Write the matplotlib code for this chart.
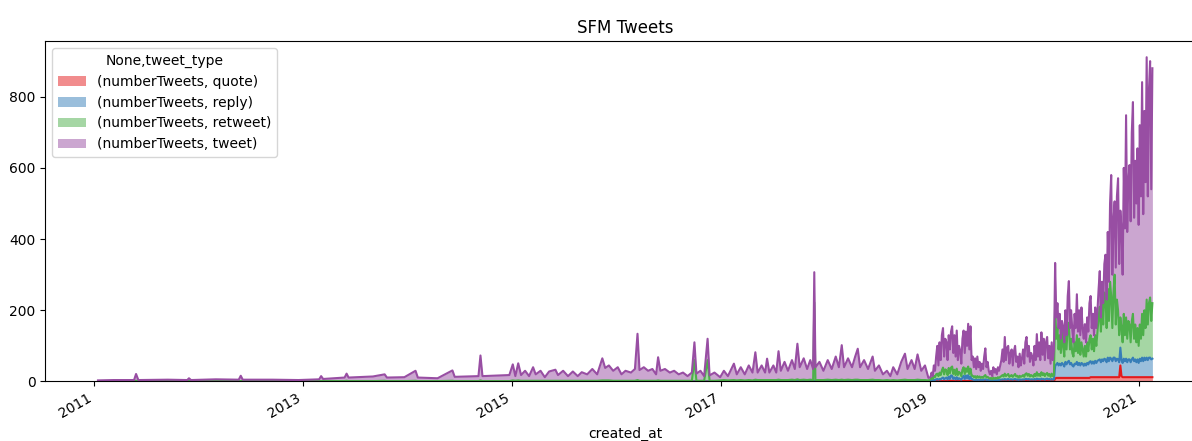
import datetime as dt

import matplotlib
matplotlib.use("Agg")
import matplotlib.dates as mdates
import matplotlib.patches as mpatches
import matplotlib.pyplot as plt
import pandas as pd

# --- 2011-2018: irregular samples (spikes and troughs)
early_dates = [
    # 2011 - 2014
    "2011-01-14", "2011-03-10", "2011-05-20", "2011-05-27", "2011-06-04", "2011-09-15", "2011-11-22", "2011-11-28", "2011-12-05", "2012-03-01",
    "2012-05-20", "2012-05-27", "2012-06-03", "2012-09-15", "2012-12-15", "2013-02-25", "2013-03-04", "2013-03-11", "2013-05-25", "2013-06-01",
    "2013-06-08", "2013-09-01", "2013-10-12", "2013-10-20", "2013-12-20", "2014-01-28", "2014-02-05", "2014-04-15", "2014-06-06", "2014-06-14",
    "2014-09-05", "2014-09-12", "2014-09-19",
    # 2015 - 2016
    "2014-12-22", "2015-01-03", "2015-01-12", "2015-01-22", "2015-02-01", "2015-02-15", "2015-03-01", "2015-03-15", "2015-03-24", "2015-04-10",
    "2015-04-25", "2015-05-10", "2015-06-01", "2015-06-10", "2015-06-28", "2015-07-15", "2015-08-01", "2015-08-18", "2015-09-01", "2015-09-20",
    "2015-10-08", "2015-10-25", "2015-11-12", "2015-11-22", "2015-12-05", "2015-12-20", "2016-01-05", "2016-01-18", "2016-02-01", "2016-02-20",
    "2016-03-05", "2016-03-14", "2016-03-21", "2016-04-05", "2016-04-20", "2016-05-05", "2016-05-18", "2016-05-25", "2016-06-02", "2016-06-18",
    "2016-07-05", "2016-07-20", "2016-08-05", "2016-08-20", "2016-09-05", "2016-09-20", "2016-09-29", "2016-10-06", "2016-10-20", "2016-11-02",
    "2016-11-14", "2016-11-21", "2016-12-08",
    # 2017 - 2018
    "2016-12-28", "2017-01-10", "2017-01-24", "2017-02-14", "2017-02-24", "2017-03-10", "2017-03-24", "2017-04-07", "2017-04-20", "2017-04-30",
    "2017-05-08", "2017-05-22", "2017-06-03", "2017-06-10", "2017-06-18", "2017-07-02", "2017-07-12", "2017-07-20", "2017-07-28", "2017-08-10",
    "2017-08-22", "2017-09-05", "2017-09-15", "2017-09-24", "2017-10-02", "2017-10-16", "2017-10-28", "2017-11-08", "2017-11-18", "2017-11-22",
    "2017-11-26", "2017-12-10", "2017-12-24", "2018-01-08", "2018-01-22", "2018-02-05", "2018-02-16", "2018-02-26", "2018-03-06", "2018-03-20",
    "2018-04-03", "2018-04-14", "2018-04-23", "2018-05-01", "2018-05-15", "2018-05-29", "2018-06-14", "2018-06-22", "2018-07-06", "2018-07-20",
    "2018-08-03", "2018-08-15", "2018-08-25", "2018-09-08", "2018-09-22", "2018-10-05", "2018-10-14", "2018-10-28", "2018-11-08", "2018-11-18",
    "2018-12-01", "2018-12-14", "2018-12-26",
]
early_quote = [
    0, 0, 0, 0, 0, 0, 0, 0, 0, 0, 0, 0, 0, 0, 0, 0, 0, 0, 0, 0, 0, 0, 0, 0, 0, 0, 0, 0, 0, 0, 0, 0, 0,
    0, 0, 0, 0, 0, 0, 0, 0, 0, 0, 0, 0, 0, 0, 0, 0, 0, 0, 0, 0, 0, 0, 0, 0, 0, 0, 0, 0, 0, 0,
    0, 0, 0, 0, 0, 0, 0, 0, 0, 0, 0, 0, 0, 0, 0, 0, 0, 0, 0, 0, 0, 0, 0,
    0, 0, 0, 0, 0, 0, 0, 0, 0, 0, 0, 0, 0, 0, 0, 0, 0, 0, 0, 0, 0, 0, 0, 0, 0, 0, 0, 0, 0, 0,
    0, 0, 0, 0, 0, 0, 0, 0, 0, 0, 0, 0, 0, 0, 0, 0, 0, 0, 0, 0, 0, 0, 0, 0, 0, 0, 0, 0, 0, 0,
    0, 0, 0,
]
early_reply = [
    0, 0, 0, 0, 0, 0, 0, 0, 0, 0, 0, 0, 0, 0, 0, 0, 0, 0, 0, 0, 0, 0, 0, 0, 0, 0, 0, 0, 0, 0, 0, 0, 0,
    0, 0, 0, 0, 0, 0, 0, 0, 0, 0, 0, 0, 0, 0, 0, 0, 0, 0, 0, 0, 0, 0, 0, 0, 0, 0, 0, 0, 0, 0,
    0, 0, 0, 0, 0, 0, 0, 0, 0, 0, 0, 0, 0, 0, 0, 0, 0, 0, 0, 0, 0, 0, 0,
    1, 1, 1, 1, 1, 1, 1, 1, 1, 1, 1, 1, 1, 1, 1, 1, 1, 1, 1, 1, 1, 1, 1, 1, 1, 1, 1, 1, 1, 2,
    1, 1, 1, 1, 1, 1, 1, 1, 1, 1, 1, 1, 1, 1, 1, 1, 1, 1, 1, 1, 1, 1, 1, 1, 1, 1, 1, 1, 1, 1,
    1, 1, 1,
]
early_retweet = [
    1, 1, 1, 2, 1, 1, 1, 1, 1, 1, 1, 1, 1, 1, 1, 1, 1, 1, 1, 2, 1, 1, 2, 1, 1, 2, 1, 1, 2, 1, 1, 3, 1,
    1, 3, 2, 3, 2, 2, 2, 2, 2, 2, 2, 2, 2, 2, 2, 2, 2, 2, 2, 2, 2, 2, 3, 3, 3, 2, 2, 2, 2, 2,
    2, 4, 2, 2, 2, 2, 2, 3, 2, 2, 2, 2, 2, 2, 2, 2, 60, 2, 2, 2, 60, 2, 2,
    2, 3, 2, 3, 2, 3, 2, 3, 2, 4, 3, 3, 3, 3, 3, 3, 3, 4, 3, 3, 3, 4, 3, 5, 3, 4, 3, 4, 3, 220,
    3, 3, 3, 4, 3, 4, 3, 4, 3, 4, 3, 4, 4, 3, 3, 3, 4, 3, 3, 2, 3, 2, 3, 2, 3, 4, 3, 3, 3, 4,
    3, 3, 2,
]
early_tweet = [
    2, 3, 3, 19, 3, 4, 3, 8, 3, 5, 4, 15, 4, 4, 3, 5, 14, 6, 10, 20, 10, 13, 18, 10, 11, 28, 10, 8, 29, 12, 14, 70, 14,
    17, 45, 13, 48, 16, 28, 13, 38, 18, 28, 10, 26, 31, 16, 28, 13, 26, 13, 24, 18, 33, 18, 62, 35, 42, 28, 38, 18, 28, 23,
    33, 130, 30, 38, 28, 33, 18, 65, 28, 33, 23, 28, 18, 23, 13, 23, 50, 20, 28, 13, 60, 15, 23,
    9, 26, 12, 46, 17, 36, 17, 41, 22, 77, 21, 41, 21, 60, 21, 41, 21, 80, 26, 51, 26, 55, 31, 100, 36, 60, 31, 55, 31, 85,
    36, 51, 26, 55, 31, 65, 36, 97, 36, 60, 36, 65, 87, 36, 56, 31, 65, 26, 41, 17, 26, 12, 36, 17, 51, 73, 31, 56, 31, 71,
    26, 41, 7,
]

# --- 2019-01-02 onwards: one sample every 4 days
recent_start = "2019-01-02"
recent_step = "4D"
recent_quote = [
    0, 1, 0, 1, 1, 1, 1, 1, 1, 1,
    1, 1, 1, 1, 1, 1, 2, 1, 2, 2,
    1, 1, 1, 2, 1, 1, 1, 1, 1, 2,
    1, 2, 1, 2, 1, 2, 1, 1, 1, 1,
    1, 1, 1, 1, 1, 1, 1, 1, 1, 1,
    1, 1, 1, 1, 0, 1, 1, 1, 1, 1,
    1, 1, 1, 1, 1, 1, 1, 1, 1, 1,
    1, 1, 1, 1, 1, 1, 1, 1, 1, 1,
    1, 1, 1, 1, 1, 1, 1, 1, 1, 1,
    1, 1, 1, 1, 1, 1, 1, 1, 1, 1,
    1, 1, 1, 1, 1, 1, 1, 1, 1, 8,
    10, 10, 10, 10, 10, 10, 10, 10, 10, 10,
    10, 10, 10, 10, 10, 10, 10, 10, 10, 10,
    10, 10, 10, 10, 10, 10, 10, 10, 10, 10,
    12, 12, 12, 12, 12, 12, 12, 12, 12, 12,
    12, 12, 12, 12, 12, 12, 12, 12, 12, 12,
    12, 12, 12, 12, 12, 12, 45, 15, 12, 12,
    12, 12, 12, 12, 12, 12, 12, 12, 12, 12,
    12, 12, 12, 12, 12, 12, 12, 12, 12, 12,
    12, 12, 12, 12, 12,
]
recent_reply = [
    2, 3, 2, 4, 3, 5, 6, 4, 6, 5,
    8, 10, 5, 8, 10, 5, 12, 6, 15, 14,
    6, 10, 5, 10, 5, 8, 6, 4, 10, 14,
    6, 15, 8, 16, 6, 12, 5, 5, 3, 4,
    3, 4, 3, 4, 3, 4, 3, 4, 5, 3,
    4, 3, 2, 3, 2, 3, 2, 3, 2, 3,
    3, 4, 4, 5, 4, 6, 4, 5, 6, 4,
    5, 5, 4, 5, 6, 4, 5, 3, 5, 4,
    4, 5, 4, 6, 6, 5, 6, 4, 5, 5,
    4, 6, 4, 7, 5, 6, 4, 7, 5, 6,
    4, 6, 7, 5, 6, 4, 6, 4, 5, 35,
    38, 42, 35, 40, 35, 42, 38, 32, 45, 38,
    45, 48, 38, 42, 35, 32, 40, 38, 45, 36,
    42, 35, 42, 40, 34, 40, 35, 42, 38, 45,
    45, 38, 44, 38, 46, 40, 46, 48, 50, 42,
    50, 45, 52, 50, 42, 55, 45, 55, 52, 45,
    55, 55, 45, 52, 50, 42, 50, 45, 40, 52,
    45, 52, 42, 50, 50, 42, 50, 55, 45, 50,
    42, 50, 40, 52, 45, 55, 45, 55, 48, 55,
    48, 55, 55, 50, 52,
]
recent_retweet = [
    4, 6, 5, 10, 8, 14, 15, 10, 18, 12,
    22, 28, 14, 25, 20, 12, 24, 16, 22, 26,
    14, 22, 12, 24, 12, 18, 16, 10, 22, 24,
    14, 20, 18, 24, 14, 22, 10, 10, 8, 10,
    6, 10, 7, 9, 6, 8, 6, 10, 12, 7,
    8, 6, 5, 6, 4, 7, 5, 6, 5, 8,
    6, 8, 10, 12, 9, 15, 10, 12, 14, 8,
    10, 12, 8, 11, 14, 9, 10, 7, 10, 8,
    10, 12, 8, 14, 16, 10, 14, 9, 12, 10,
    8, 14, 10, 18, 10, 14, 10, 18, 12, 16,
    10, 14, 16, 10, 14, 8, 15, 10, 12, 175,
    72, 98, 45, 80, 35, 88, 52, 28, 95, 42,
    105, 107, 42, 68, 35, 28, 60, 37, 75, 34,
    68, 30, 58, 40, 26, 50, 25, 58, 37, 65,
    73, 40, 64, 35, 72, 48, 82, 120, 148, 86,
    168, 103, 186, 178, 96, 193, 113, 213, 176, 93,
    183, 233, 103, 166, 138, 76, 85, 90, 58, 126,
    73, 116, 66, 108, 98, 56, 108, 123, 63, 98,
    56, 88, 48, 96, 63, 123, 73, 133, 90, 163,
    100, 153, 169, 108, 156,
]
recent_tweet = [
    6, 15, 8, 30, 18, 50, 78, 30, 85, 42,
    99, 111, 50, 86, 79, 42, 92, 67, 101, 113,
    59, 97, 52, 107, 42, 73, 64, 35, 87, 103,
    59, 103, 73, 120, 69, 119, 44, 54, 28, 50,
    25, 55, 29, 41, 20, 37, 25, 55, 75, 29,
    42, 20, 12, 20, 9, 29, 17, 25, 12, 28,
    20, 32, 45, 72, 41, 103, 45, 77, 79, 37,
    64, 72, 32, 68, 79, 41, 54, 29, 62, 32,
    50, 72, 37, 89, 102, 54, 79, 41, 62, 54,
    32, 79, 45, 107, 54, 89, 45, 112, 57, 97,
    45, 89, 101, 49, 79, 37, 88, 45, 72, 115,
    60, 70, 60, 60, 40, 30, 53, 40, 50, 40,
    80, 117, 60, 80, 64, 40, 80, 65, 115, 60,
    80, 55, 98, 60, 50, 61, 40, 70, 55, 100,
    110, 60, 70, 45, 78, 50, 60, 80, 100, 40,
    50, 60, 80, 116, 80, 160, 110, 220, 340, 150,
    200, 206, 160, 290, 371, 200, 300, 272, 190, 410,
    300, 568, 300, 390, 448, 340, 530, 595, 340, 460,
    390, 505, 340, 560, 400, 651, 340, 560, 410, 681,
    360, 600, 664, 370, 660,
]

series_names = ["quote", "reply", "retweet", "tweet"]
colors = ["#e41a1c", "#377eb8", "#4daf4a", "#984ea3"]
tick_years = [2011, 2013, 2015, 2017, 2019, 2021]

early = pd.DataFrame({"quote": early_quote, "reply": early_reply,
                      "retweet": early_retweet, "tweet": early_tweet},
                     index=pd.to_datetime(early_dates))
recent = pd.DataFrame({"quote": recent_quote, "reply": recent_reply,
                       "retweet": recent_retweet, "tweet": recent_tweet},
                      index=pd.date_range(recent_start, periods=len(recent_tweet), freq=recent_step))
df = pd.concat([early, recent])
stacked = df[series_names].cumsum(axis=1)

fig = plt.figure(figsize=(11.92, 4.41), dpi=100)
ax = fig.add_axes([0.038, 0.135, 0.973, 0.772])

x = df.index.to_pydatetime()
prev = None
handles = []
for name, c in zip(series_names, colors):
    top = stacked[name].values
    bottom = 0 if prev is None else prev
    ax.plot(x, top, color=c, lw=1.5)
    ax.fill_between(x, bottom, top, color=c, alpha=0.5, lw=0)
    handles.append(mpatches.Rectangle((0, 0), 1, 1, fc=c, alpha=0.5))
    prev = top

ax.set_ylim(0, None)
ax.xaxis.set_major_locator(plt.FixedLocator(
    [mdates.date2num(dt.datetime(y, 1, 1)) for y in tick_years]))
ax.xaxis.set_major_formatter(mdates.DateFormatter("%Y"))
for lab in ax.get_xticklabels():
    lab.set_rotation(30)
    lab.set_ha("right")

ax.set_title("SFM Tweets")
ax.set_xlabel("created_at")
ax.legend(handles, [f"(numberTweets, {n})" for n in series_names],
          title="None,tweet_type", loc="upper left")

fig.savefig("out.png", dpi=100)
